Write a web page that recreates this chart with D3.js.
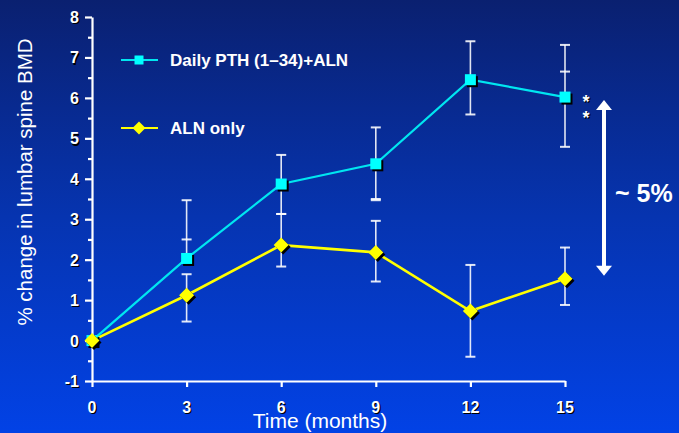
<!DOCTYPE html>
<html><head><meta charset="utf-8">
<script src="https://cdn.jsdelivr.net/npm/d3@7"></script>
<style>html,body{margin:0;padding:0;overflow:hidden;}svg{display:block;}</style>
</head><body>
<svg id="chart" width="679" height="433"></svg>
<script>
const months = [0, 3, 6, 9, 12, 15];
const pthAln = [0, 2.03, 3.87, 4.37, 6.45, 6.02];
const pthLo  = [0, 1.93, 3.13, 3.50, 5.59, 4.79];
const pthHi  = [0, 3.47, 4.59, 5.27, 7.40, 7.31];
const alnOnly = [0, 1.12, 2.36, 2.18, 0.73, 1.53];
const alnLo   = [0, 0.47, 1.83, 1.46, -0.40, 0.88];
const alnHi   = [0, 1.64, 3.13, 2.96, 1.87, 2.30];
const extraCapMonths = [3, 9, 15];
const extraCapValues = [2.50, 3.47, 6.65];
const yTicks = [-1, 0, 1, 2, 3, 4, 5, 6, 7, 8];
const yMinor = [-0.5, 0.5, 1.5, 2.5, 3.5, 4.5, 5.5, 6.5, 7.5];
const seriesNames = ["Daily PTH (1\u201334)+ALN", "ALN only"];
const arrowFrom = 1.53, arrowTo = 6.02;

const svg = d3.select("#chart");
const W = 679, H = 433;
const FONT = "Liberation Sans, Arial, sans-serif";
const defs = svg.append("defs");
const grad = defs.append("linearGradient").attr("id","bg").attr("x1",0).attr("y1",0).attr("x2",0).attr("y2",1);
grad.append("stop").attr("offset","0%").attr("stop-color","#0a2070");
grad.append("stop").attr("offset","50%").attr("stop-color","#0634b0");
grad.append("stop").attr("offset","100%").attr("stop-color","#0242e6");
svg.append("rect").attr("width",W).attr("height",H).attr("fill","url(#bg)");

const x = d3.scaleLinear().domain([0,15]).range([92,565]);
const y = d3.scaleLinear().domain([-1,8]).range([381,17]);

function shadowText(g, tx, ty, txt, opts){
  const t1 = g.append("text").attr("x",tx+1.2).attr("y",ty+1.2).text(txt).attr("fill","#000");
  const t2 = g.append("text").attr("x",tx).attr("y",ty).text(txt).attr("fill","#fff");
  [t1,t2].forEach(t=>{ for(const k in opts) t.attr(k, opts[k]); });
}

// Axes
const yAxis = svg.append("g").attr("transform",`translate(${x(0)},0)`)
  .call(d3.axisLeft(y).tickValues(yTicks).tickSize(7).tickSizeOuter(0).tickFormat(""));
const yAxisMinor = svg.append("g").attr("transform",`translate(${x(0)},0)`)
  .call(d3.axisLeft(y).tickValues(yMinor).tickSize(4).tickSizeOuter(0).tickFormat(""));
const xAxis = svg.append("g").attr("transform",`translate(0,${y(-1)})`)
  .call(d3.axisBottom(x).tickValues(months).tickSize(6).tickSizeOuter(0).tickFormat(""));
[yAxis,yAxisMinor,xAxis].forEach(g=>{
  g.selectAll("path").attr("stroke","#fff").attr("stroke-width",2.2);
  g.selectAll("line").attr("stroke","#fff").attr("stroke-width",2.2);
});
yAxisMinor.select("path").remove();

const lab = svg.append("g").attr("font-family",FONT).attr("font-weight","bold").attr("font-size","16px");
yTicks.forEach(v=>{
  shadowText(lab, x(0)-13, y(v)+6, String(v), {"text-anchor":"end"});
});
months.forEach(m=>{
  shadowText(lab, x(m), 413, String(m), {"text-anchor":"middle"});
});

// Axis titles
svg.append("text").attr("transform",`translate(32,182) rotate(-90)`)
  .attr("text-anchor","middle").attr("font-family",FONT)
  .attr("font-size","20.5px").attr("fill","#fff").text("% change in lumbar spine BMD");
svg.append("text").attr("x",320).attr("y",428)
  .attr("text-anchor","middle").attr("font-family",FONT)
  .attr("font-size","21px").attr("fill","#fff").text("Time (months)");

// Error bars
const eb = svg.append("g").attr("stroke","rgba(255,255,255,0.88)").attr("stroke-width",1.6);
function errBars(lo, hi){
  months.forEach((m,i)=>{
    if (lo[i] === hi[i]) return;
    eb.append("line").attr("x1",x(m)).attr("x2",x(m)).attr("y1",y(lo[i])).attr("y2",y(hi[i]));
    [lo[i],hi[i]].forEach(v=>{
      eb.append("line").attr("x1",x(m)-5).attr("x2",x(m)+5).attr("y1",y(v)).attr("y2",y(v)).attr("stroke-width",2);
    });
  });
}
errBars(pthLo, pthHi);
errBars(alnLo, alnHi);
extraCapMonths.forEach((m,i)=>{
  eb.append("line").attr("x1",x(m)-5).attr("x2",x(m)+5).attr("y1",y(extraCapValues[i])).attr("y2",y(extraCapValues[i])).attr("stroke-width",2);
});

// Lines
const line = d3.line().x((d,i)=>x(months[i])).y(d=>y(d));
svg.append("path").datum(alnOnly).attr("d",line).attr("fill","none").attr("stroke","#ffff00").attr("stroke-width",2.6);
svg.append("path").datum(pthAln).attr("d",line).attr("fill","none").attr("stroke","#00e6f0").attr("stroke-width",2.2);

// Markers
const sq = d3.symbol().type(d3.symbolSquare).size(121);
const diamond = r => `M0,${-r}L${r},0L0,${r}L${-r},0Z`;
const mk = svg.append("g");
pthAln.forEach((v,i)=>{
  mk.append("path").attr("d",sq()).attr("transform",`translate(${x(months[i])+2},${y(v)+2})`).attr("fill","#000");
  mk.append("path").attr("d",sq()).attr("transform",`translate(${x(months[i])},${y(v)})`).attr("fill","#00ffff");
});
alnOnly.forEach((v,i)=>{
  mk.append("path").attr("d",diamond(7.5)).attr("transform",`translate(${x(months[i])+2},${y(v)+2})`).attr("fill","#000");
  mk.append("path").attr("d",diamond(7.5)).attr("transform",`translate(${x(months[i])},${y(v)})`).attr("fill","#ffff00");
});

// Legend
const lg = svg.append("g").attr("font-family",FONT).attr("font-weight","bold").attr("font-size","17px");
lg.append("line").attr("x1",121).attr("x2",158).attr("y1",60).attr("y2",60).attr("stroke","#00e6f0").attr("stroke-width",2);
lg.append("path").attr("d",d3.symbol().type(d3.symbolSquare).size(81)()).attr("transform","translate(139,60)").attr("fill","#00ffff");
lg.append("text").attr("x",170).attr("y",66).attr("fill","#fff").text(seriesNames[0]);
lg.append("line").attr("x1",121).attr("x2",158).attr("y1",128).attr("y2",128).attr("stroke","#ffff00").attr("stroke-width",2);
lg.append("path").attr("d",diamond(6.5)).attr("transform","translate(139,128)").attr("fill","#ffff00");
lg.append("text").attr("x",170).attr("y",134).attr("fill","#fff").text(seriesNames[1]);

// Asterisks
const ast = svg.append("g").attr("font-family",FONT).attr("font-weight","bold").attr("font-size","18px");
shadowText(ast, 586, 108, "*", {"text-anchor":"middle"});
shadowText(ast, 586, 124, "*", {"text-anchor":"middle"});

// Double arrow
const ax = 604;
const yTop = y(arrowTo) + 3, yBot = y(arrowFrom) - 3;
const ar = svg.append("g").attr("fill","#fff");
ar.append("rect").attr("x",ax-2).attr("y",yTop+8).attr("width",4).attr("height",yBot-yTop-16);
ar.append("path").attr("d",`M${ax},${yTop} L${ax+8},${yTop+10} L${ax-8},${yTop+10} Z`);
ar.append("path").attr("d",`M${ax},${yBot} L${ax+8},${yBot-10} L${ax-8},${yBot-10} Z`);
svg.append("text").attr("x",615).attr("y",202).attr("font-family",FONT)
  .attr("font-weight","bold").attr("font-size","25px").attr("fill","#fff").text("~ 5%");
</script>
</body></html>
